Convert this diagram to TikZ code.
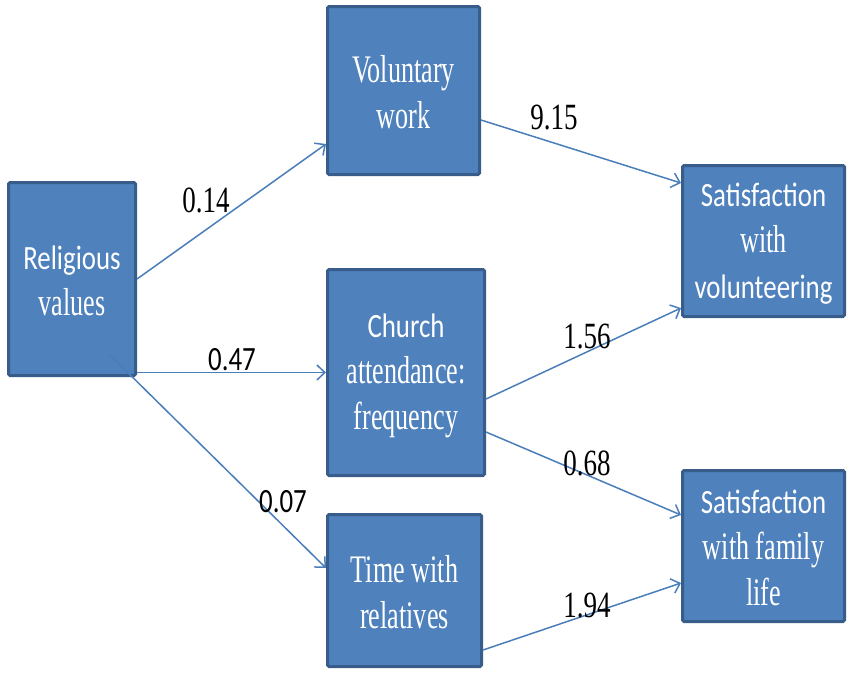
\documentclass[tikz,border=0pt]{standalone}
\usepackage{fontspec}
\setmainfont{Liberation Serif}
\newfontfamily\carl{Carlito}
\usetikzlibrary{arrows.meta}
\definecolor{boxfill}{HTML}{4F81BD}
\definecolor{boxline}{HTML}{385D8A}
\definecolor{arrowc}{HTML}{4A7EBB}
\newcommand\rmt[1]{\scalebox{0.67}[1]{\fontsize{39}{46}\selectfont #1}}
\newcommand\sst[1]{\scalebox{0.79}[1]{\fontsize{34}{46}\selectfont\carl #1}}
\newcommand\rnum[1]{\scalebox{0.73}[1]{\fontsize{37}{40}\selectfont #1}}
\tikzset{
  box/.style={draw=boxline, fill=boxfill, line width=3pt, rounded corners=1.5pt, inner sep=0pt},
  boxtext/.style={text=white, align=center, inner sep=0pt, font=\fontsize{39}{46}\selectfont},
  conn/.style={draw=arrowc, line width=1.5pt, -{Straight Barb[length=8pt,width=15pt,line width=1.5pt]}},
  lab/.style={inner sep=0pt, text=black}
}
\begin{document}
\begin{tikzpicture}[x=1pt,y=-1pt]
\useasboundingbox (0,0) rectangle (848,673);
\node[box, minimum width=127pt, minimum height=193pt] (rv) at (72,279) {};
\node[box, minimum width=152pt, minimum height=168pt] (vw) at (403.5,90.5) {};
\node[box, minimum width=157pt, minimum height=206pt] (ca) at (406,372.5) {};
\node[box, minimum width=154pt, minimum height=152pt] (tr) at (404.5,590.5) {};
\node[box, minimum width=162pt, minimum height=151pt] (sv) at (763.5,241) {};
\node[box, minimum width=162pt, minimum height=151pt] (sf) at (763.5,546) {};

\node[boxtext] (rvt) at ([yshift=-1.5pt]rv.center) {\sst{Religious}\\\rmt{values}};
\node[boxtext] (vwt) at ([yshift=-1.5pt]vw.center) {\rmt{Voluntary}\\\rmt{work}};
\node[boxtext] (cat) at ([yshift=-3pt]ca.center) {\sst{Church}\\\rmt{attendance:}\\\rmt{frequency}};
\node[boxtext] (trt) at ([yshift=-1.5pt]tr.center) {\rmt{Time with}\\\rmt{relatives}};
\node[boxtext] (svt) at ([yshift=-3pt]sv.center) {\sst{Satisfaction}\\\rmt{with}\\\sst{volunteering}};
\node[boxtext] (sft) at ([yshift=-2pt]sf.center) {\sst{Satisfaction}\\\rmt{with family}\\\rmt{life}};

\draw[conn] (rv.east) -- ([yshift=-53.5pt]vw.west);
\draw[conn] (rv.east |- ca.west) -- (ca.west);
\draw[conn] ([xshift=38pt,yshift=-76pt]rv.center) -- ([yshift=22.5pt]tr.west);
\draw[conn] ([yshift=-29.5pt]vw.east) -- ([yshift=58pt]sv.west);
\draw[conn] ([yshift=-26.5pt]ca.east) -- ([yshift=-67pt]sv.west);
\draw[conn] ([yshift=-59.5pt]ca.east) -- ([yshift=31pt]sf.west);
\draw[conn] ([yshift=-59.5pt]tr.east) -- ([yshift=-37pt]sf.west);

\node[lab] (l1) at (206,200) {\rnum{0.14}};
\node[lab] (l2) at (232,360) {\sst{0.47}};
\node[lab] (l3) at (283,502) {\sst{0.07}};
\node[lab] (l4) at (554,118) {\rnum{9.15}};
\node[lab] (l5) at (587,337) {\rnum{1.56}};
\node[lab] (l6) at (587,463) {\rnum{0.68}};
\node[lab] (l7) at (587,605) {\rnum{1.94}};
\end{tikzpicture}
\end{document}
